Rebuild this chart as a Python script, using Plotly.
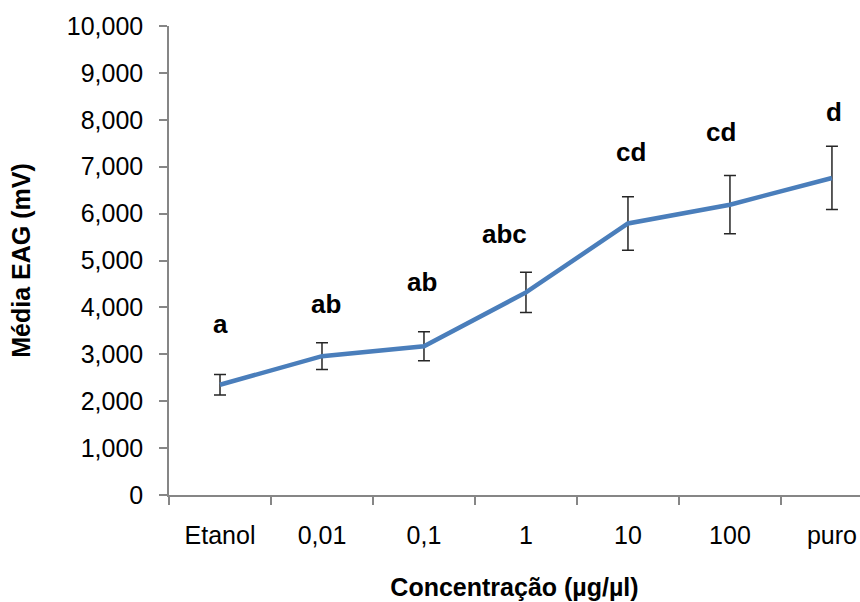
import plotly.graph_objects as go

categories = ["Etanol", "0,01", "0,1", "1", "10", "100", "puro"]
means = [2350, 2960, 3170, 4320, 5790, 6190, 6760]
errors = [220, 285, 310, 430, 570, 620, 675]
letters = ["a", "ab", "ab", "abc", "cd", "cd", "d"]
letter_y = [3410, 3840, 4310, 5330, 7080, 7500, 7930]
letter_xshift = [0, 4, -2, -21, 3, -9, 2]
y_ticks = [0, 1000, 2000, 3000, 4000, 5000, 6000, 7000, 8000, 9000, 10000]

FONT = "Liberation Sans, Arial, sans-serif"
AXIS_GRAY = "#868686"

fig = go.Figure()
fig.add_trace(go.Scatter(
    x=categories, y=means, mode="lines",
    line=dict(color="#4A7EBB", width=4.5),
    error_y=dict(type="data", array=errors, visible=True,
                 color="#262626", thickness=1.5, width=6),
    showlegend=False, hoverinfo="skip",
))

for i, (t, yv, xs) in enumerate(zip(letters, letter_y, letter_xshift)):
    fig.add_annotation(x=i, y=yv, text="<b>%s</b>" % t, showarrow=False,
                       xref="x", yref="y",
                       xanchor="center", yanchor="bottom", xshift=xs, yshift=-6,
                       font=dict(family=FONT, size=26, color="#000000"))

fig.update_layout(
    width=860, height=602,
    margin=dict(l=169, r=0, t=26, b=107, autoexpand=False),
    paper_bgcolor="white", plot_bgcolor="white",
    font=dict(family=FONT, color="#000000"),
)
fig.update_xaxes(
    type="category", range=[-0.5, 6.275], automargin=False,
    showline=True, linecolor=AXIS_GRAY, linewidth=1.5,
    ticks="outside", tickson="boundaries", ticklen=8, tickcolor=AXIS_GRAY, tickwidth=1.5,
    showgrid=False, zeroline=False,
    tickfont=dict(family=FONT, size=25, color="#000000"),
    ticklabelstandoff=17,
    title=dict(text="<b>Concentração (µg/µl)</b>", standoff=31,
               font=dict(family=FONT, size=25, color="#000000")),
)
fig.update_yaxes(
    range=[0, 10000], tickvals=y_ticks, tickformat=",d", automargin=False,
    showline=True, linecolor=AXIS_GRAY, linewidth=1.5,
    ticks="outside", ticklen=8, tickcolor=AXIS_GRAY, tickwidth=1.5,
    showgrid=False, zeroline=False,
    tickfont=dict(family=FONT, size=25, color="#000000"),
    ticklabelstandoff=11,
    title=dict(text="<b>Média EAG (mV)</b>", standoff=29,
               font=dict(family=FONT, size=25, color="#000000")),
)

fig.write_html(
    "out.html",
    config={"displayModeBar": False},
    post_script="document.body.style.margin='0';document.body.style.overflow='hidden';",
)
